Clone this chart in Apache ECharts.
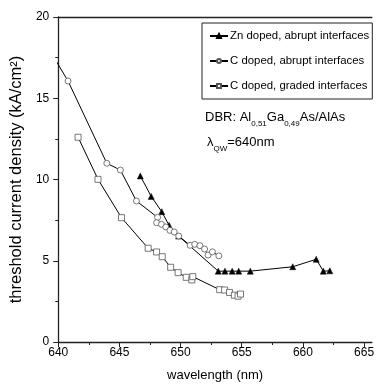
<!DOCTYPE html>
<html><head><meta charset="utf-8">
<script src="https://cdn.jsdelivr.net/npm/echarts@6/dist/echarts.min.js"></script>
<style>html,body{margin:0;padding:0;background:#fff}#c{width:377px;height:390px}</style>
</head><body><div id="c"></div>
<script>
// Data
const znX = [646.71, 647.6, 648.46, 649.06, 649.84, 653.08, 653.63, 654.22, 654.75, 655.7, 659.17, 661.09, 661.67, 662.2];
const znY = [10.22, 8.96, 8.02, 7.18, 6.52, 4.36, 4.36, 4.36, 4.36, 4.36, 4.63, 5.09, 4.36, 4.38];

const cAbX = [639.7, 640.8, 643.97, 645.08, 646.39, 648.12, 648.04, 648.44, 648.79, 649.13, 649.48, 649.85, 650.78, 651.16, 651.58, 651.96, 652.25, 652.6, 653.13];
const cAbY = [17.45, 16.06, 11.0, 10.58, 8.68, 7.67, 7.34, 7.24, 7.08, 6.87, 6.77, 6.52, 5.95, 6.01, 5.93, 5.72, 5.35, 5.55, 5.3];

const cGrX = [641.62, 643.25, 645.17, 647.35, 648.04, 648.5, 649.19, 649.8, 650.46, 650.92, 651.0, 653.2, 653.6, 654.0, 654.4, 654.7, 654.9];
const cGrY = [12.6, 10.01, 7.65, 5.77, 5.54, 5.25, 4.6, 4.27, 3.98, 3.82, 4.02, 3.22, 3.2, 3.05, 2.88, 2.82, 2.95];

const xMajor = [640, 645, 650, 655, 660, 665];
const xMinor = [642.5, 647.5, 652.5, 657.5, 662.5];
const names = ['Zn doped, abrupt interfaces', 'C doped, abrupt interfaces', 'C doped, graded interfaces'];

const F = '"Liberation Sans", Arial, sans-serif';
const zip = (a, b) => a.map((v, i) => [v, b[i]]);

const chart = echarts.init(document.getElementById('c'));
chart.setOption({
  animation: false,
  grid: { left: 56, right: 0, top: 17, bottom: 48 },
  xAxis: [
    { type: 'value', min: 640, max: 665.64, position: 'bottom',
      axisLine: { show: true, onZero: false, lineStyle: { color: '#222', width: 1.3 } },
      axisTick: { show: true, inside: false, length: 5, customValues: xMajor, lineStyle: { color: '#222' } },
      axisLabel: { customValues: xMajor, margin: 5, color: '#000', fontFamily: F, fontSize: 12 },
      splitLine: { show: false },
      name: 'wavelength (nm)', nameLocation: 'middle', nameGap: 27,
      nameTextStyle: { fontFamily: F, fontSize: 13, color: '#000' } },
    { type: 'value', min: 640, max: 665.64, position: 'bottom',
      axisLine: { show: false },
      axisTick: { show: true, length: 3, customValues: xMinor, lineStyle: { color: '#222' } },
      axisLabel: { show: false }, splitLine: { show: false } },
    { type: 'value', min: 640, max: 665.64, position: 'top',
      axisLine: { show: true, onZero: false, lineStyle: { color: '#222', width: 1.3 } },
      axisTick: { show: false }, axisLabel: { show: false }, splitLine: { show: false } }
  ],
  yAxis: {
    type: 'value', min: 0, max: 20, interval: 5,
    axisLine: { show: true, onZero: false, lineStyle: { color: '#222', width: 1.3 } },
    axisTick: { show: true, length: 5, lineStyle: { color: '#222' } },
    minorTick: { show: true, splitNumber: 2, length: 3, lineStyle: { color: '#222' } },
    axisLabel: { margin: 9, color: '#000', fontFamily: F, fontSize: 12 },
    splitLine: { show: false },
    name: 'threshold current density (kA/cm²)', nameLocation: 'middle', nameGap: 33,
    nameTextStyle: { fontFamily: F, fontSize: 16.5, color: '#000' }
  },
  legend: {
    orient: 'vertical', left: 202, top: 23,
    padding: [6, 3, 6, 7], itemGap: 11, itemWidth: 18, itemHeight: 5,
    borderColor: '#222', borderWidth: 1, borderRadius: 0,
    textStyle: { fontFamily: F, fontSize: 11.4, color: '#000', lineHeight: 14, padding: [0, 0, 0, -3] },
    data: names
  },
  graphic: [
    { type: 'text', left: 205, top: 111, style: {
      text: '{n|DBR: Al}{s|0,51}{n|Ga}{s|0,49}{n|As/AlAs}',
      rich: { n: { fontFamily: F, fontSize: 13, fill: '#000', verticalAlign: 'top', lineHeight: 15 },
              s: { fontFamily: F, fontSize: 8, fill: '#000', verticalAlign: 'top', padding: [9, 0, 0, 0], lineHeight: 15 } } } },
    { type: 'text', left: 207, top: 136, style: {
      text: '{n|λ}{s|QW}{n|=640nm}',
      rich: { n: { fontFamily: F, fontSize: 13, fill: '#000', verticalAlign: 'top', lineHeight: 15 },
              s: { fontFamily: F, fontSize: 8, fill: '#000', verticalAlign: 'top', padding: [9, 0, 0, 0], lineHeight: 15 } } } }
  ],
  series: [
    { name: names[0], type: 'line', data: zip(znX, znY), symbol: 'triangle', symbolSize: 6,
      lineStyle: { color: '#000', width: 1 }, itemStyle: { color: '#000', borderColor: '#000', borderWidth: 0.5 }, clip: true },
    { name: names[1], type: 'line', data: zip(cAbX, cAbY), symbol: 'circle', symbolSize: 6,
      lineStyle: { color: '#000', width: 1 }, itemStyle: { color: '#fff', borderColor: '#555', borderWidth: 0.8 }, clip: true },
    { name: names[2], type: 'line', data: zip(cGrX, cGrY), symbol: 'rect', symbolSize: 6,
      lineStyle: { color: '#000', width: 1 }, itemStyle: { color: '#fff', borderColor: '#555', borderWidth: 0.8 }, clip: true }
  ]
});
</script></body></html>
